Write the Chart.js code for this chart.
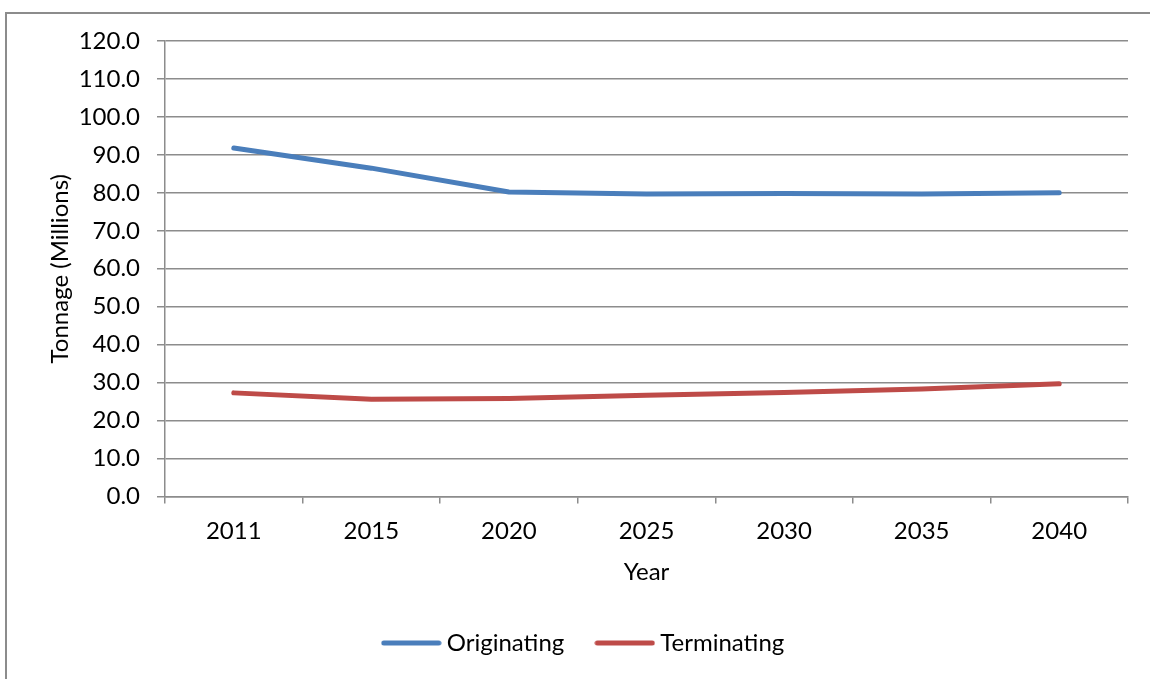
<!DOCTYPE html>
<html>
<head>
<meta charset="utf-8">
<title>Tonnage by Year</title>
<script src="https://cdn.jsdelivr.net/npm/chart.js@4.4.1/dist/chart.umd.min.js"></script>
<style>
  html, body { margin: 0; padding: 0; background: #fff; overflow: hidden; }
  #frame {
    position: absolute; left: 5px; top: 12px;
    width: 2000px; height: 2000px;
    border: 2px solid #8c8c8c;
  }
  #wrap { position: absolute; left: 0; top: 0; width: 1150px; height: 679px; }
</style>
</head>
<body>
<div id="frame"></div>
<div id="wrap"><canvas id="tonnageChart" width="1150" height="679"></canvas></div>
<script>
// Years on the category axis
const years = ['2011', '2015', '2020', '2025', '2030', '2035', '2040'];

// Tonnage in millions
const originating = [91.8, 86.5, 80.2, 79.7, 79.8, 79.7, 80.0];
const terminating = [27.3, 25.6, 25.8, 26.7, 27.4, 28.3, 29.7];

// Y axis range
const yMin = 0;
const yMax = 120;
const yStep = 10;

const FONT = 'Lato, "Open Sans", sans-serif';
const FONT_SIZE = 24;
const GRID = '#8c8c8c';

// legend swatch: a short thick line, a bit wider than the legend box
function legendLine(color) {
    const c = document.createElement('canvas');
    c.width = 61;
    c.height = 6;
    const g = c.getContext('2d');
    g.strokeStyle = color;
    g.lineWidth = 5;
    g.lineCap = 'round';
    g.beginPath();
    g.moveTo(3, 3);
    g.lineTo(58, 3);
    g.stroke();
    return c;
}

function lineSeries(label, data, color) {
    return {
        label: label,
        data: data,
        borderColor: color,
        backgroundColor: color,
        borderWidth: 5,
        borderCapStyle: 'round',
        borderJoinStyle: 'round',
        pointRadius: 0,
        pointHoverRadius: 0,
        tension: 0,
        fill: false
    };
}

const ctx = document.getElementById('tonnageChart');

new Chart(ctx, {
    type: 'line',
    data: {
        labels: years,
        datasets: [
            lineSeries('Originating', originating, '#4a7ebb'),
            lineSeries('Terminating', terminating, '#be4b48')
        ]
    },
    options: {
        responsive: false,
        animation: false,
        devicePixelRatio: 1,
        layout: {
            padding: { left: 44, right: 22, top: 41, bottom: 14 }
        },
        plugins: {
            tooltip: { enabled: false },
            legend: {
                position: 'bottom',
                labels: {
                    color: '#000',
                    font: { family: FONT, size: FONT_SIZE },
                    usePointStyle: true,
                    pointStyleWidth: 47,
                    boxHeight: 6,
                    padding: 37,
                    generateLabels: function(chart) {
                        const items = Chart.defaults.plugins.legend.labels.generateLabels(chart);
                        return items.map(item => Object.assign(item, {
                            pointStyle: legendLine(item.strokeStyle),
                            lineWidth: 0
                        }));
                    }
                }
            }
        },
        scales: {
            x: {
                type: 'category',
                offset: true,
                grid: {
                    offset: true,
                    drawOnChartArea: false,
                    drawTicks: true,
                    tickLength: 7,
                    color: GRID,
                    lineWidth: 1.5
                },
                border: { color: GRID, width: 1.5 },
                ticks: {
                    color: '#000',
                    font: { family: FONT, size: FONT_SIZE },
                    padding: 13,
                    maxRotation: 0
                },
                title: {
                    display: true,
                    text: 'Year',
                    color: '#000',
                    font: { family: FONT, size: FONT_SIZE },
                    padding: { top: 0, bottom: 7 }
                },
                afterFit: function(scale) {
                    scale.height = 97.5;
                }
            },
            y: {
                min: yMin,
                max: yMax,
                grid: {
                    color: GRID,
                    lineWidth: 1.5,
                    tickLength: 8
                },
                border: { color: GRID, width: 1.5 },
                ticks: {
                    stepSize: yStep,
                    color: '#000',
                    font: { family: FONT, size: FONT_SIZE },
                    padding: 17,
                    callback: v => Number(v).toFixed(1)
                },
                title: {
                    display: true,
                    text: 'Tonnage (Millions)',
                    color: '#000',
                    font: { family: FONT, size: FONT_SIZE },
                    padding: { top: 2, bottom: 0 }
                },
                afterFit: function(scale) {
                    scale.width = 121;
                }
            }
        }
    }
});
</script>
</body>
</html>
